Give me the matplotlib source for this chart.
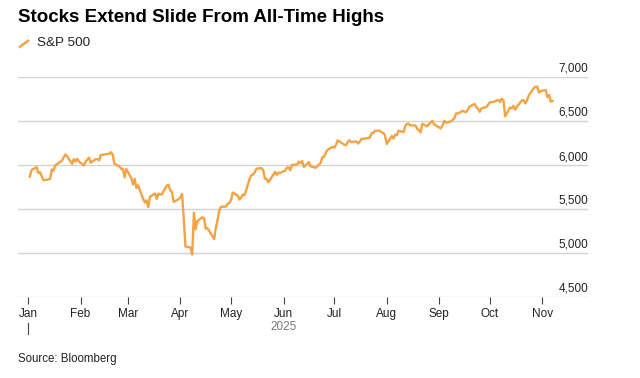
import matplotlib
matplotlib.use("Agg")
import matplotlib.pyplot as plt
import matplotlib.transforms as mtransforms
from matplotlib.lines import Line2D
import pandas as pd

plt.rcParams['font.family'] = ['Liberation Sans', 'DejaVu Sans']

# S&P 500 daily closes, 2025
dates = [
    "2025-01-02", "2025-01-03", "2025-01-06", "2025-01-07", "2025-01-08", "2025-01-10",
    "2025-01-13", "2025-01-14", "2025-01-15", "2025-01-16", "2025-01-17", "2025-01-21",
    "2025-01-22", "2025-01-23", "2025-01-24", "2025-01-27", "2025-01-28", "2025-01-29",
    "2025-01-30", "2025-01-31", "2025-02-03", "2025-02-04", "2025-02-05", "2025-02-06",
    "2025-02-07", "2025-02-10", "2025-02-11", "2025-02-12", "2025-02-13", "2025-02-14",
    "2025-02-18", "2025-02-19", "2025-02-20", "2025-02-21", "2025-02-24", "2025-02-25",
    "2025-02-26", "2025-02-27", "2025-02-28", "2025-03-03", "2025-03-04", "2025-03-05",
    "2025-03-06", "2025-03-07", "2025-03-10", "2025-03-11", "2025-03-12", "2025-03-13",
    "2025-03-14", "2025-03-17", "2025-03-18", "2025-03-19", "2025-03-20", "2025-03-21",
    "2025-03-24", "2025-03-25", "2025-03-26", "2025-03-27", "2025-03-28", "2025-03-31",
    "2025-04-01", "2025-04-02", "2025-04-03", "2025-04-04", "2025-04-07", "2025-04-08",
    "2025-04-09", "2025-04-10", "2025-04-11", "2025-04-14", "2025-04-15", "2025-04-16",
    "2025-04-17", "2025-04-21", "2025-04-22", "2025-04-23", "2025-04-24", "2025-04-25",
    "2025-04-28", "2025-04-29", "2025-04-30", "2025-05-01", "2025-05-02", "2025-05-05",
    "2025-05-06", "2025-05-07", "2025-05-08", "2025-05-09", "2025-05-12", "2025-05-13",
    "2025-05-14", "2025-05-15", "2025-05-16", "2025-05-19", "2025-05-20", "2025-05-21",
    "2025-05-22", "2025-05-23", "2025-05-27", "2025-05-28", "2025-05-29", "2025-05-30",
    "2025-06-02", "2025-06-03", "2025-06-04", "2025-06-05", "2025-06-06", "2025-06-09",
    "2025-06-10", "2025-06-11", "2025-06-12", "2025-06-13", "2025-06-16", "2025-06-17",
    "2025-06-18", "2025-06-20", "2025-06-23", "2025-06-24", "2025-06-25", "2025-06-26",
    "2025-06-27", "2025-06-30", "2025-07-01", "2025-07-02", "2025-07-03", "2025-07-07",
    "2025-07-08", "2025-07-09", "2025-07-10", "2025-07-11", "2025-07-14", "2025-07-15",
    "2025-07-16", "2025-07-17", "2025-07-18", "2025-07-21", "2025-07-22", "2025-07-23",
    "2025-07-24", "2025-07-25", "2025-07-28", "2025-07-29", "2025-07-30", "2025-07-31",
    "2025-08-01", "2025-08-04", "2025-08-05", "2025-08-06", "2025-08-07", "2025-08-08",
    "2025-08-11", "2025-08-12", "2025-08-13", "2025-08-14", "2025-08-15", "2025-08-18",
    "2025-08-19", "2025-08-20", "2025-08-21", "2025-08-22", "2025-08-25", "2025-08-26",
    "2025-08-27", "2025-08-28", "2025-08-29", "2025-09-02", "2025-09-03", "2025-09-04",
    "2025-09-05", "2025-09-08", "2025-09-09", "2025-09-10", "2025-09-11", "2025-09-12",
    "2025-09-15", "2025-09-16", "2025-09-17", "2025-09-18", "2025-09-19", "2025-09-22",
    "2025-09-23", "2025-09-24", "2025-09-25", "2025-09-26", "2025-09-29", "2025-09-30",
    "2025-10-01", "2025-10-02", "2025-10-03", "2025-10-06", "2025-10-07", "2025-10-08",
    "2025-10-09", "2025-10-10", "2025-10-13", "2025-10-14", "2025-10-15", "2025-10-16",
    "2025-10-17", "2025-10-20", "2025-10-21", "2025-10-22", "2025-10-23", "2025-10-24",
    "2025-10-27", "2025-10-28", "2025-10-29", "2025-10-30", "2025-10-31", "2025-11-03",
    "2025-11-04", "2025-11-05", "2025-11-06", "2025-11-07",
]
closes = [
    5868.55, 5942.47, 5975.38, 5909.03, 5918.25, 5827.04,
    5836.22, 5842.91, 5949.91, 5937.34, 5996.66, 6049.24,
    6086.37, 6118.71, 6101.24, 6012.28, 6067.70, 6039.31,
    6071.17, 6040.53, 5994.57, 6037.88, 6061.48, 6083.57,
    6025.99, 6066.44, 6068.50, 6051.97, 6115.07, 6114.63,
    6129.58, 6144.15, 6117.52, 6013.13, 5983.25, 5955.25,
    5956.06, 5861.57, 5954.50, 5849.72, 5778.15, 5842.63,
    5738.52, 5770.20, 5614.56, 5572.07, 5599.30, 5521.52,
    5638.94, 5675.12, 5614.66, 5675.29, 5662.89, 5667.56,
    5767.57, 5776.65, 5712.20, 5693.31, 5580.94, 5611.85,
    5633.07, 5670.97, 5396.52, 5074.08, 5062.25, 4982.77,
    5456.90, 5268.05, 5363.36, 5405.97, 5396.63, 5275.70,
    5282.70, 5158.20, 5287.76, 5375.86, 5484.77, 5525.21,
    5528.75, 5560.83, 5569.06, 5604.14, 5686.67, 5650.38,
    5606.91, 5631.28, 5663.94, 5659.91, 5844.19, 5886.55,
    5892.58, 5916.93, 5958.38, 5963.60, 5940.46, 5844.61,
    5842.01, 5802.82, 5921.54, 5888.55, 5912.17, 5911.69,
    5935.94, 5970.37, 5970.81, 5939.30, 6000.36, 6005.88,
    6038.81, 6022.24, 6045.26, 5976.97, 6033.11, 5982.72,
    5980.87, 5967.84, 6025.17, 6092.18, 6092.16, 6141.02,
    6173.07, 6204.95, 6198.01, 6227.42, 6279.35, 6229.98,
    6225.52, 6263.26, 6280.46, 6259.75, 6268.56, 6243.76,
    6263.70, 6297.36, 6296.79, 6305.60, 6309.62, 6358.91,
    6363.35, 6388.64, 6389.77, 6370.86, 6362.90, 6339.39,
    6238.01, 6329.94, 6299.19, 6345.06, 6340.00, 6389.45,
    6373.45, 6445.76, 6466.58, 6468.54, 6449.80, 6449.15,
    6411.37, 6395.78, 6370.17, 6466.91, 6439.32, 6465.94,
    6481.40, 6501.86, 6460.26, 6415.54, 6448.26, 6502.08,
    6481.50, 6495.15, 6512.61, 6532.04, 6587.47, 6584.29,
    6615.28, 6606.76, 6600.35, 6631.96, 6664.36, 6693.75,
    6656.92, 6637.97, 6604.72, 6643.70, 6661.21, 6688.46,
    6711.20, 6715.35, 6715.79, 6740.28, 6714.59, 6753.72,
    6735.11, 6552.51, 6654.72, 6644.31, 6671.06, 6629.07,
    6664.01, 6735.13, 6735.35, 6699.40, 6738.44, 6791.69,
    6875.16, 6890.89, 6890.59, 6822.34, 6840.20, 6851.97,
    6771.55, 6796.29, 6720.32, 6728.80,
]

y_ticks = [4500, 5000, 5500, 6000, 6500, 7000]
month_starts = pd.date_range("2025-01-01", "2025-11-01", freq="MS")
month_labels = ["Jan", "Feb", "Mar", "Apr", "May", "Jun", "Jul", "Aug", "Sep", "Oct", "Nov"]

line_color = "#F4A343"
grid_color = "#D3D3D3"

fig = plt.figure(figsize=(6.4, 3.78), dpi=100)
ax = fig.add_axes([18 / 640, 1 - 297 / 378, (588 - 18) / 640, (297 - 77) / 378])

x = pd.to_datetime(dates)
ax.plot(x, closes, color=line_color, lw=1.7, solid_joinstyle="round", zorder=3)

ax.set_xlim(pd.Timestamp("2024-12-26"), pd.Timestamp("2025-11-28"))
ax.set_ylim(4500, 7000)

for s in ax.spines.values():
    s.set_visible(False)

# horizontal gridlines + labels sitting above them on the right
ax.set_yticks([])
lab_tr = mtransforms.offset_copy(ax.get_yaxis_transform(), fig=fig, x=0, y=5, units="dots")
for v in y_ticks:
    ax.axhline(v, color=grid_color, lw=1.0, zorder=1)
    ax.text(1.0, v, f"{v:,}", transform=lab_tr, ha="right", va="baseline",
            fontsize=8.5, color="#222222")

ax.set_xticks(month_starts)
ax.set_xticklabels(month_labels)
ax.tick_params(axis="x", length=5, width=0.8, color="#444444", pad=3,
               labelsize=8.5, labelcolor="#222222")

# year label and marker
ax.text(pd.Timestamp("2025-06-01"), -0.135, "2025", transform=ax.get_xaxis_transform(),
        ha="center", va="center", fontsize=8.5, color="#777777")
ax.add_line(Line2D([pd.Timestamp("2025-01-01")] * 2, [-0.118, -0.168],
                   transform=ax.get_xaxis_transform(), color="#444444", lw=0.8, clip_on=False))

fig.text(18 / 640, 1 - 18 / 378, "Stocks Extend Slide From All-Time Highs",
         fontsize=13.5, fontweight="bold", color="#000000", ha="left", va="center")
fig.add_artist(Line2D([19 / 640, 29 / 640], [1 - 47.5 / 378, 1 - 40 / 378],
                      color=line_color, lw=1.8, solid_capstyle="butt"))
fig.text(37 / 640, 1 - 43 / 378, "S&P 500", fontsize=9.7, color="#222222",
         ha="left", va="center")
fig.text(18 / 640, 1 - 359 / 378, "Source: Bloomberg", fontsize=8.3, color="#222222",
         ha="left", va="center")

fig.savefig("out.png", dpi=100, facecolor="white")
